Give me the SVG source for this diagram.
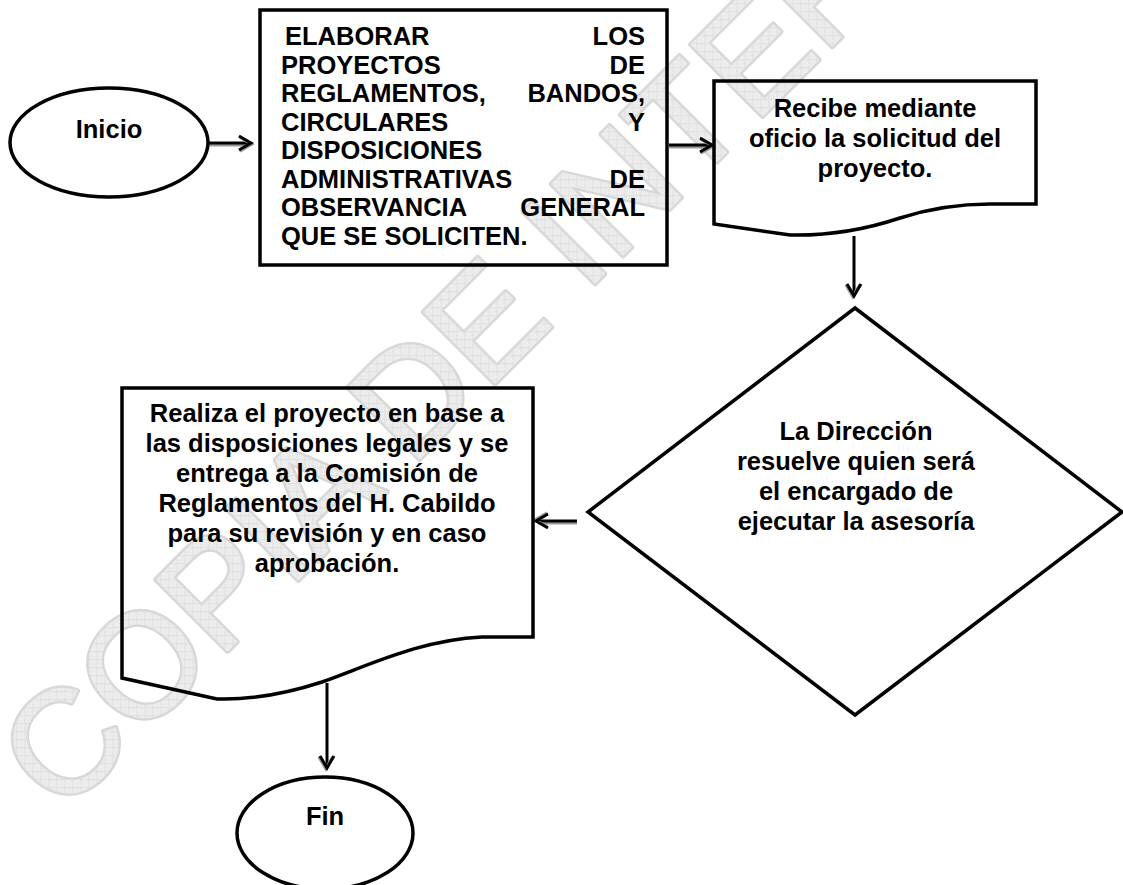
<svg xmlns="http://www.w3.org/2000/svg" width="1123" height="885" viewBox="0 0 1123 885">
<style>
.t{font-family:"Liberation Sans",Arial,sans-serif;font-weight:bold;font-size:25.5px;fill:#000}
.c{text-anchor:middle}
.e{text-anchor:end}
.shape{fill:none;stroke:#000;stroke-width:3.5;stroke-linejoin:miter}
.shaft{stroke:#000;stroke-width:3;fill:none}
.shadow{stroke:#9a9a9a;stroke-width:3;fill:none}
.wm{font-family:"Liberation Sans",Arial,sans-serif;font-weight:normal;font-size:148px;fill:url(#hatch);stroke:#d8d8d8;stroke-width:5;stroke-linejoin:round;paint-order:stroke}
</style>
<defs>
<pattern id="hatch" width="8" height="8" patternUnits="userSpaceOnUse" patternTransform="rotate(45)">
<rect width="8" height="8" fill="#ececec"/>
<path d="M0,0 L8,0 M0,0 L0,8" stroke="#d6d6d6" stroke-width="1"/>
</pattern>
<marker id="ah" viewBox="0 0 16 16" refX="14" refY="8" markerWidth="16" markerHeight="16" markerUnits="userSpaceOnUse" orient="auto" overflow="visible">
<polyline points="2,1 14,8 2,15" fill="none" stroke="#9a9a9a" stroke-width="3" transform="translate(0.8,1.2)"/>
<polyline points="2,1 14,8 2,15" fill="none" stroke="#000" stroke-width="3"/>
</marker>
</defs>
<rect width="1123" height="885" fill="#fff"/>
<g id="watermark">
<text class="wm" x="62" y="817" transform="rotate(-45 62 817)">COPIA DE INTERNET</text>
</g>
<g id="connectors">
<line class="shadow" x1="209" y1="145" x2="249" y2="145"/>
<line class="shaft" x1="209" y1="143" x2="251" y2="143" marker-end="url(#ah)"/>
<line class="shadow" x1="669" y1="147" x2="711" y2="147"/>
<line class="shaft" x1="669" y1="145" x2="712" y2="145" marker-end="url(#ah)"/>
<line class="shaft" x1="854" y1="236" x2="854" y2="296" marker-end="url(#ah)"/>
<line class="shadow" x1="577" y1="523" x2="538" y2="523"/>
<line class="shaft" x1="577" y1="521" x2="536" y2="521" marker-end="url(#ah)"/>
<line class="shaft" x1="327" y1="683" x2="327" y2="768" marker-end="url(#ah)"/>
</g>
<g id="inicio">
<ellipse class="shape" cx="109" cy="142.5" rx="99" ry="54.5"/>
<text class="t c" x="109" y="138">Inicio</text>
</g>
<g id="elaborar">
<rect class="shape" x="260" y="10" width="407" height="255"/>
<text class="t" x="285" y="45">ELABORAR</text><text class="t e" x="645" y="45">LOS</text>
<text class="t" x="281" y="73.5">PROYECTOS</text><text class="t e" x="645" y="73.5">DE</text>
<text class="t" x="281" y="102">REGLAMENTOS,</text><text class="t e" x="645" y="102">BANDOS,</text>
<text class="t" x="281" y="130.5">CIRCULARES</text><text class="t e" x="645" y="130.5">Y</text>
<text class="t" x="281" y="159">DISPOSICIONES</text>
<text class="t" x="281" y="187.5">ADMINISTRATIVAS</text><text class="t e" x="645" y="187.5">DE</text>
<text class="t" x="281" y="216">OBSERVANCIA</text><text class="t e" x="645" y="216">GENERAL</text>
<text class="t" x="281" y="244.5">QUE SE SOLICITEN.</text>
</g>
<g id="recibe">
<path class="shape" d="M714,81 L1036,81 L1036,204 L990,204 C955,204 925,210 900,218 C870,228 835,236 790,235 L714,224 Z"/>
<text class="t c" x="875" y="117">Recibe mediante</text>
<text class="t c" x="875" y="147">oficio la solicitud del</text>
<text class="t c" x="875" y="177">proyecto.</text>
</g>
<g id="direccion">
<polygon class="shape" points="855,308 1122,512 855,715 588,512"/>
<text class="t c" x="856" y="440">La Dirección</text>
<text class="t c" x="856" y="470">resuelve quien será</text>
<text class="t c" x="856" y="500">el encargado de</text>
<text class="t c" x="856" y="530">ejecutar la asesoría</text>
</g>
<g id="realiza">
<path class="shape" d="M122,388 L533,388 L533,637 L482,637 C420,640 370,665 322,682 C285,694 250,700 217,699 L122,678 Z"/>
<text class="t c" x="327" y="422">Realiza el proyecto en base a</text>
<text class="t c" x="327" y="452">las disposiciones legales y se</text>
<text class="t c" x="327" y="482">entrega a la Comisión de</text>
<text class="t c" x="327" y="512">Reglamentos del H. Cabildo</text>
<text class="t c" x="327" y="542">para su revisión y en caso</text>
<text class="t c" x="327" y="572">aprobación.</text>
</g>
<g id="fin">
<ellipse class="shape" cx="325" cy="833" rx="88" ry="56"/>
<text class="t c" x="325" y="825">Fin</text>
</g>
</svg>
